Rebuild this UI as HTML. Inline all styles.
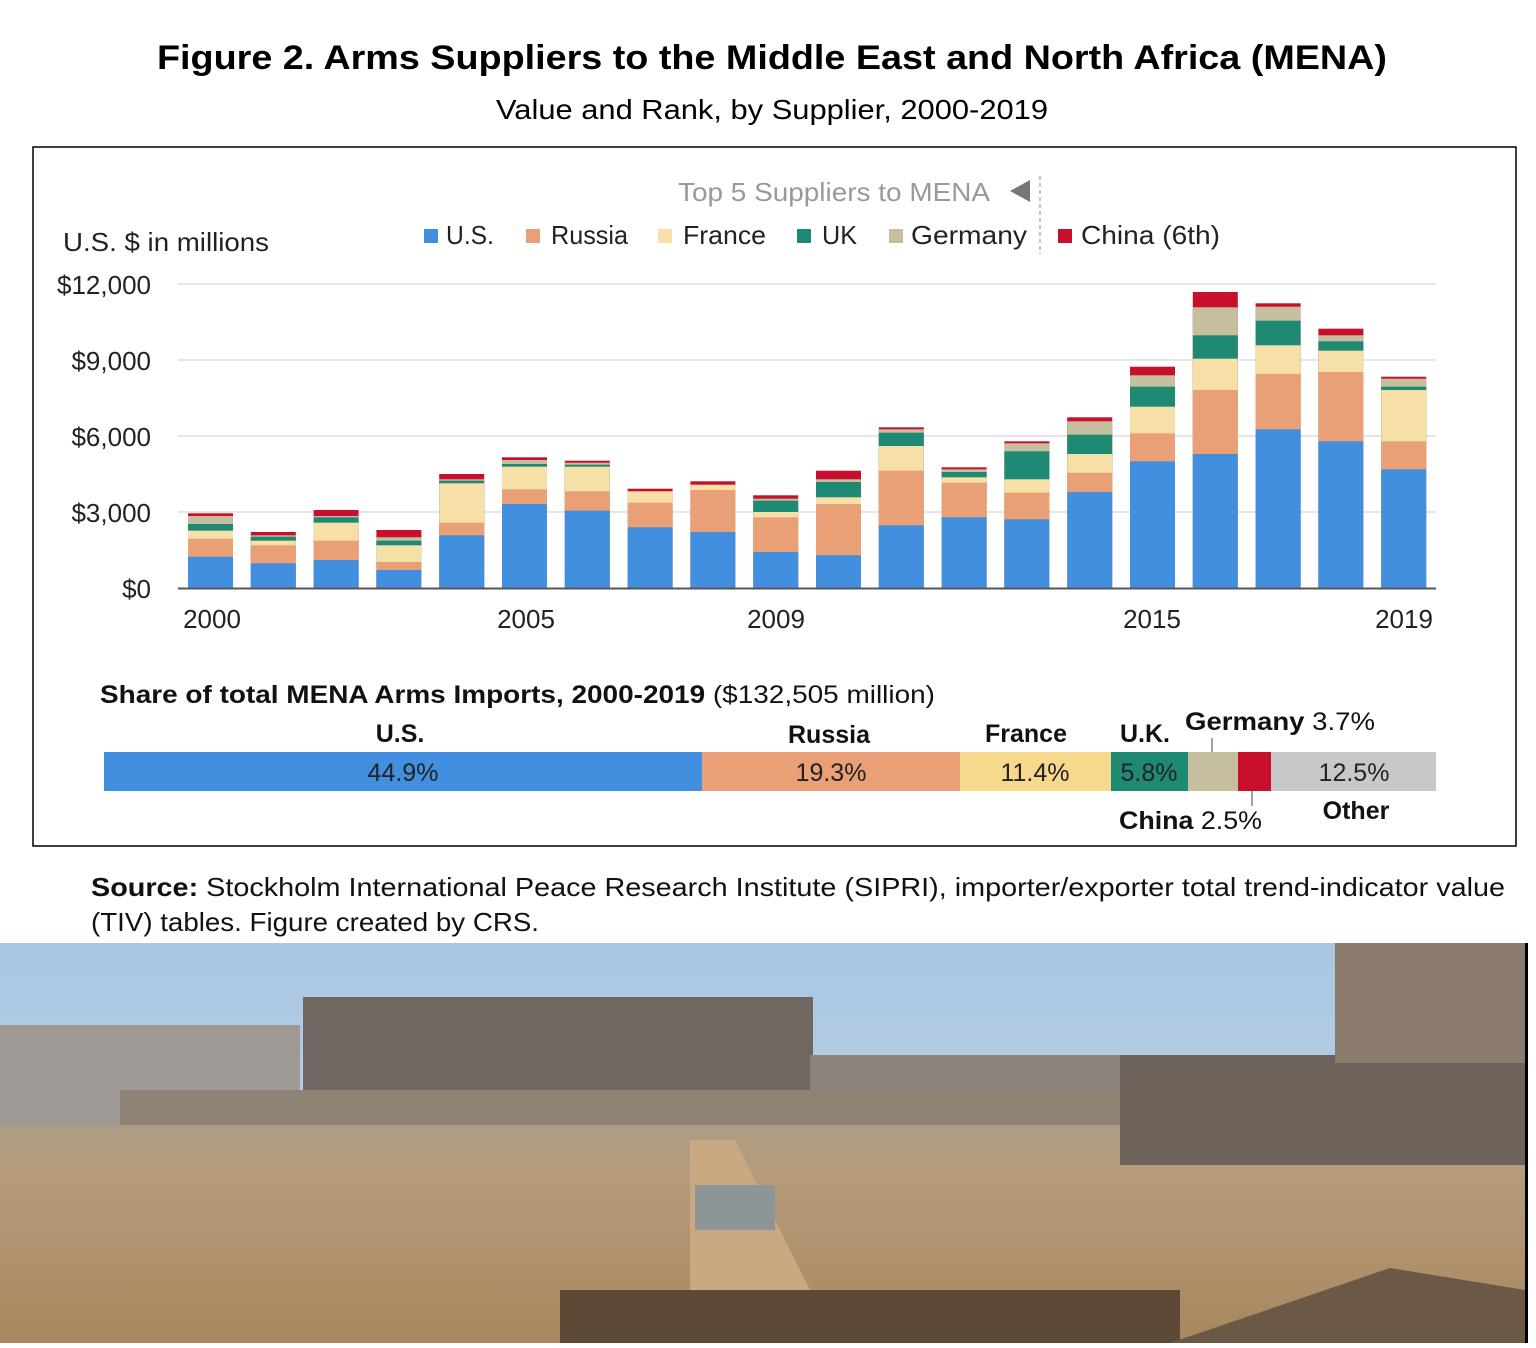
<!DOCTYPE html>
<html><head><meta charset="utf-8"><style>
html,body{margin:0;padding:0;background:#fff;}
svg{display:block;font-family:"Liberation Sans",sans-serif;}
.r{fill:#c8102e}.g{fill:#c5bf9f}.k{fill:#1f8a74}.f{fill:#f7dfa8}.u{fill:#e9a077}.s{fill:#428fdf}
</style></head><body>
<svg width="1536" height="1348" viewBox="0 0 1536 1348" xmlns="http://www.w3.org/2000/svg">
<rect width="1536" height="1348" fill="#fff"/>
<text x="772" y="69" text-anchor="middle" font-size="34" font-weight="bold" textLength="1230" lengthAdjust="spacingAndGlyphs">Figure 2. Arms Suppliers to the Middle East and North Africa (MENA)</text>
<text x="772" y="119" text-anchor="middle" font-size="28" textLength="552" lengthAdjust="spacingAndGlyphs">Value and Rank, by Supplier, 2000-2019</text>
<rect x="33" y="147" width="1483" height="699" fill="none" stroke="#000" stroke-width="1.5"/>
<text x="678" y="201" font-size="26" fill="#999" textLength="312" lengthAdjust="spacingAndGlyphs">Top 5 Suppliers to MENA</text>
<polygon points="1010,191 1030,180 1030,202" fill="#777"/>
<line x1="1040" y1="176" x2="1040" y2="254" stroke="#888" stroke-dasharray="4,3"/>
<text x="63" y="251" font-size="26" fill="#222" textLength="206" lengthAdjust="spacingAndGlyphs">U.S. $ in millions</text>
<g font-size="26" fill="#222">
<rect x="424" y="229" width="14" height="14" fill="#428fdf"/><text x="446" y="244" textLength="48" lengthAdjust="spacingAndGlyphs">U.S.</text>
<rect x="526" y="229" width="14" height="14" fill="#e9a077"/><text x="551" y="244" textLength="77" lengthAdjust="spacingAndGlyphs">Russia</text>
<rect x="658" y="229" width="14" height="14" fill="#f7dfa8"/><text x="683" y="244" textLength="83" lengthAdjust="spacingAndGlyphs">France</text>
<rect x="797" y="229" width="14" height="14" fill="#1f8a74"/><text x="822" y="244" textLength="35" lengthAdjust="spacingAndGlyphs">UK</text>
<rect x="889" y="229" width="14" height="14" fill="#c5bf9f"/><text x="911" y="244" textLength="116" lengthAdjust="spacingAndGlyphs">Germany</text>
<rect x="1058" y="229" width="14" height="14" fill="#c8102e"/><text x="1081" y="244" textLength="139" lengthAdjust="spacingAndGlyphs">China (6th)</text>
</g>
<g stroke="#ddd" stroke-width="1.5">
<line x1="178" y1="284" x2="1436" y2="284"/><line x1="178" y1="360" x2="1436" y2="360"/>
<line x1="178" y1="436" x2="1436" y2="436"/><line x1="178" y1="512" x2="1436" y2="512"/>
</g>
<g font-size="26" fill="#222" text-anchor="end">
<text x="151" y="294">$12,000</text><text x="151" y="370">$9,000</text><text x="151" y="446">$6,000</text><text x="151" y="522">$3,000</text><text x="151" y="598">$0</text>
</g>
<g>
<g transform="translate(188,0)"><rect class="r" y="513.3" width="45" height="74.7"/><rect class="g" y="516" width="45" height="72"/><rect class="k" y="524" width="45" height="64"/><rect class="f" y="530.7" width="45" height="57.3"/><rect class="u" y="538.7" width="45" height="49.3"/><rect class="s" y="556.7" width="45" height="31.3"/></g>
<g transform="translate(250.8,0)"><rect class="r" y="532" width="45" height="56"/><rect class="g" y="535.3" width="45" height="52.7"/><rect class="k" y="536.7" width="45" height="51.3"/><rect class="f" y="540.7" width="45" height="47.3"/><rect class="u" y="545.3" width="45" height="42.7"/><rect class="s" y="563.3" width="45" height="24.7"/></g>
<g transform="translate(313.6,0)"><rect class="r" y="510" width="45" height="78"/><rect class="g" y="516" width="45" height="72"/><rect class="k" y="517.3" width="45" height="70.7"/><rect class="f" y="522.7" width="45" height="65.3"/><rect class="u" y="540.7" width="45" height="47.3"/><rect class="s" y="560" width="45" height="28"/></g>
<g transform="translate(376.4,0)"><rect class="r" y="530" width="45" height="58"/><rect class="g" y="537.3" width="45" height="50.7"/><rect class="k" y="540.7" width="45" height="47.3"/><rect class="f" y="545.3" width="45" height="42.7"/><rect class="u" y="562" width="45" height="26"/><rect class="s" y="570" width="45" height="18"/></g>
<g transform="translate(439.2,0)"><rect class="r" y="474" width="45" height="114"/><rect class="g" y="479.3" width="45" height="108.7"/><rect class="k" y="480.7" width="45" height="107.3"/><rect class="f" y="483.3" width="45" height="104.7"/><rect class="u" y="522.7" width="45" height="65.3"/><rect class="s" y="535.3" width="45" height="52.7"/></g>
<g transform="translate(502,0)"><rect class="r" y="457.3" width="45" height="130.7"/><rect class="g" y="460" width="45" height="128"/><rect class="k" y="464" width="45" height="124"/><rect class="f" y="466.7" width="45" height="121.3"/><rect class="u" y="489.3" width="45" height="98.7"/><rect class="s" y="504" width="45" height="84"/></g>
<g transform="translate(564.8,0)"><rect class="r" y="460.7" width="45" height="127.3"/><rect class="g" y="462.7" width="45" height="125.3"/><rect class="k" y="464.7" width="45" height="123.3"/><rect class="f" y="466.7" width="45" height="121.3"/><rect class="u" y="491.3" width="45" height="96.7"/><rect class="s" y="510.7" width="45" height="77.3"/></g>
<g transform="translate(627.6,0)"><rect class="r" y="488.7" width="45" height="99.3"/><rect class="f" y="491.3" width="45" height="96.7"/><rect class="u" y="502.7" width="45" height="85.3"/><rect class="s" y="527.3" width="45" height="60.7"/></g>
<g transform="translate(690.4,0)"><rect class="r" y="481.3" width="45" height="106.7"/><rect class="f" y="484.7" width="45" height="103.3"/><rect class="u" y="490" width="45" height="98"/><rect class="s" y="532" width="45" height="56"/></g>
<g transform="translate(753.2,0)"><rect class="r" y="495.3" width="45" height="92.7"/><rect class="g" y="498.7" width="45" height="89.3"/><rect class="k" y="500.7" width="45" height="87.3"/><rect class="f" y="512" width="45" height="76"/><rect class="u" y="517.3" width="45" height="70.7"/><rect class="s" y="552" width="45" height="36"/></g>
<g transform="translate(816,0)"><rect class="r" y="470.7" width="45" height="117.3"/><rect class="g" y="479.3" width="45" height="108.7"/><rect class="k" y="482" width="45" height="106"/><rect class="f" y="497.3" width="45" height="90.7"/><rect class="u" y="504" width="45" height="84"/><rect class="s" y="555.3" width="45" height="32.7"/></g>
<g transform="translate(878.8,0)"><rect class="r" y="427.3" width="45" height="160.7"/><rect class="g" y="429.3" width="45" height="158.7"/><rect class="k" y="432.7" width="45" height="155.3"/><rect class="f" y="446" width="45" height="142"/><rect class="u" y="470.7" width="45" height="117.3"/><rect class="s" y="525.3" width="45" height="62.7"/></g>
<g transform="translate(941.6,0)"><rect class="r" y="467.3" width="45" height="120.7"/><rect class="g" y="469.3" width="45" height="118.7"/><rect class="k" y="472" width="45" height="116"/><rect class="f" y="477.3" width="45" height="110.7"/><rect class="u" y="482.7" width="45" height="105.3"/><rect class="s" y="517.3" width="45" height="70.7"/></g>
<g transform="translate(1004.4,0)"><rect class="r" y="441.3" width="45" height="146.7"/><rect class="g" y="443.3" width="45" height="144.7"/><rect class="k" y="451.3" width="45" height="136.7"/><rect class="f" y="479.3" width="45" height="108.7"/><rect class="u" y="492.7" width="45" height="95.3"/><rect class="s" y="519.3" width="45" height="68.7"/></g>
<g transform="translate(1067.2,0)"><rect class="r" y="417.3" width="45" height="170.7"/><rect class="g" y="421.3" width="45" height="166.7"/><rect class="k" y="434.7" width="45" height="153.3"/><rect class="f" y="454" width="45" height="134"/><rect class="u" y="472.7" width="45" height="115.3"/><rect class="s" y="492" width="45" height="96"/></g>
<g transform="translate(1130,0)"><rect class="r" y="366.7" width="45" height="221.3"/><rect class="g" y="375.3" width="45" height="212.7"/><rect class="k" y="386.7" width="45" height="201.3"/><rect class="f" y="406.7" width="45" height="181.3"/><rect class="u" y="433.3" width="45" height="154.7"/><rect class="s" y="461.3" width="45" height="126.7"/></g>
<g transform="translate(1192.8,0)"><rect class="r" y="292" width="45" height="296"/><rect class="g" y="307.3" width="45" height="280.7"/><rect class="k" y="335.3" width="45" height="252.7"/><rect class="f" y="358.7" width="45" height="229.3"/><rect class="u" y="390" width="45" height="198"/><rect class="s" y="454" width="45" height="134"/></g>
<g transform="translate(1255.6,0)"><rect class="r" y="303.3" width="45" height="284.7"/><rect class="g" y="306.7" width="45" height="281.3"/><rect class="k" y="320.7" width="45" height="267.3"/><rect class="f" y="345.3" width="45" height="242.7"/><rect class="u" y="374" width="45" height="214"/><rect class="s" y="429.3" width="45" height="158.7"/></g>
<g transform="translate(1318.4,0)"><rect class="r" y="328.7" width="45" height="259.3"/><rect class="g" y="335.3" width="45" height="252.7"/><rect class="k" y="341.3" width="45" height="246.7"/><rect class="f" y="350.7" width="45" height="237.3"/><rect class="u" y="372" width="45" height="216"/><rect class="s" y="441.3" width="45" height="146.7"/></g>
<g transform="translate(1381.2,0)"><rect class="r" y="376.7" width="45" height="211.3"/><rect class="g" y="378.7" width="45" height="209.3"/><rect class="k" y="386.7" width="45" height="201.3"/><rect class="f" y="390" width="45" height="198"/><rect class="u" y="441.3" width="45" height="146.7"/><rect class="s" y="469.3" width="45" height="118.7"/></g>
</g>
<line x1="178" y1="588.5" x2="1436" y2="588.5" stroke="#555" stroke-width="2"/>
<g font-size="26" fill="#222" text-anchor="middle">
<text x="212" y="628">2000</text><text x="526" y="628">2005</text><text x="776" y="628">2009</text><text x="1152" y="628">2015</text><text x="1404" y="628">2019</text>
</g>
<text x="100" y="703" font-size="25" fill="#111" textLength="835" lengthAdjust="spacingAndGlyphs"><tspan font-weight="bold">Share of total MENA Arms Imports, 2000-2019</tspan> ($132,505 million)</text>
<g font-size="25" font-weight="bold" fill="#111" text-anchor="middle">
<text x="400" y="742">U.S.</text><text x="829" y="743">Russia</text><text x="1026" y="742">France</text><text x="1145" y="742">U.K.</text><text x="1356" y="819">Other</text>
</g>
<text x="1185" y="730" font-size="25" fill="#111" textLength="190" lengthAdjust="spacingAndGlyphs"><tspan font-weight="bold">Germany</tspan> 3.7%</text>
<text x="1119" y="829" font-size="25" fill="#111" textLength="143" lengthAdjust="spacingAndGlyphs"><tspan font-weight="bold">China</tspan> 2.5%</text>
<line x1="1212" y1="738" x2="1212" y2="758" stroke="#444"/>
<line x1="1252" y1="786" x2="1252" y2="806" stroke="#444"/>
<rect x="104" y="752" width="598" height="39" fill="#428fdf"/>
<rect x="702" y="752" width="258" height="39" fill="#e9a077"/>
<rect x="960" y="752" width="151" height="39" fill="#f7d98e"/>
<rect x="1111" y="752" width="77" height="39" fill="#1f8a74"/>
<rect x="1188" y="752" width="50" height="39" fill="#c5bf9f"/>
<rect x="1238" y="752" width="33" height="39" fill="#c8102e"/>
<rect x="1271" y="752" width="165" height="39" fill="#c8c8c8"/>
<g font-size="25" fill="#222" text-anchor="middle">
<text x="403" y="781">44.9%</text><text x="831" y="781">19.3%</text><text x="1035" y="781">11.4%</text><text x="1149" y="781">5.8%</text><text x="1354" y="781">12.5%</text>
</g>
<text x="91" y="896" font-size="26" fill="#111" textLength="1414" lengthAdjust="spacingAndGlyphs"><tspan font-weight="bold">Source:</tspan> Stockholm International Peace Research Institute (SIPRI), importer/exporter total trend-indicator value</text>
<text x="91" y="931" font-size="26" fill="#111" textLength="448" lengthAdjust="spacingAndGlyphs">(TIV) tables. Figure created by CRS.</text>
<defs>
<linearGradient id="sky" x1="0" y1="0" x2="0" y2="1"><stop offset="0" stop-color="#a9c6e2"/><stop offset="1" stop-color="#c9d9e6"/></linearGradient>
<linearGradient id="gr" x1="0" y1="0" x2="0" y2="1"><stop offset="0" stop-color="#a79b8c"/><stop offset="0.3" stop-color="#b69c7a"/><stop offset="1" stop-color="#a8875f"/></linearGradient>
</defs>
<rect x="0" y="943" width="1525" height="400" fill="url(#sky)"/>
<rect x="0" y="1100" width="1525" height="243" fill="url(#gr)"/>
<rect x="0" y="1025" width="300" height="100" fill="#9f9a95"/>
<rect x="303" y="997" width="510" height="100" fill="#6f6760"/>
<rect x="810" y="1055" width="330" height="65" fill="#8b847c"/>
<rect x="1120" y="1055" width="405" height="110" fill="#6d635a"/>
<rect x="1335" y="943" width="190" height="120" fill="#8a7b6c"/>
<rect x="120" y="1090" width="1000" height="35" fill="#8e8375"/>
<polygon points="690,1140 735,1140 810,1290 690,1290" fill="#c9a982"/>
<rect x="695" y="1185" width="80" height="45" fill="#8d9596"/>
<polygon points="560,1290 1180,1290 1180,1343 560,1343" fill="#5d4a36"/>
<polygon points="1170,1343 1390,1268 1525,1290 1525,1343" fill="#6b5846"/>
<rect x="1525" y="943" width="3" height="400" fill="#000"/>
</svg>
</body></html>
